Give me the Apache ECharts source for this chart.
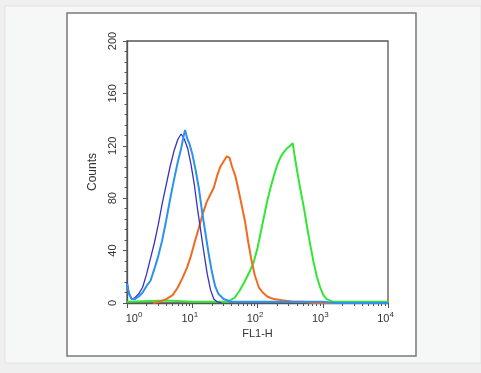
<!DOCTYPE html>
<html>
<head>
<meta charset="utf-8">
<script src="https://cdn.jsdelivr.net/npm/echarts@6/dist/echarts.min.js"></script>
<style>
html,body{margin:0;padding:0;background:#efefef;}
#chart{width:481px;height:373px;}
</style>
</head>
<body>
<div id="chart"></div>
<script>
// FL1-H intensity given as log10 exponent; Counts per channel
var purpleLog10FL1 = [0.00,0.03,0.07,0.12,0.18,0.24,0.30,0.36,0.42,0.48,0.54,0.60,0.66,0.72,0.78,0.83,0.88,0.93,0.98,1.03,1.08,1.13,1.18,1.23,1.28,1.33,1.38,1.45];
var purpleCounts   = [16,8,3,4,7,12,22,34,46,60,76,90,104,116,125,129,125,118,106,91,72,55,38,22,10,3,1,0];

var blueLog10FL1 = [0.00,0.03,0.07,0.12,0.18,0.24,0.30,0.36,0.42,0.48,0.54,0.60,0.66,0.72,0.78,0.83,0.87,0.89,0.92,0.96,1.00,1.05,1.10,1.15,1.20,1.25,1.30,1.35,1.40,1.48,1.60,1.80,2.00,2.40,2.80,3.00,3.20,4.00];
var blueCounts   = [15,7,3,3,5,8,13,17,26,36,48,63,79,94,108,118,128,132,126,121,114,102,88,70,54,38,24,13,7,3,1,1,1,1,1,1,0,0];

var orangeLog10FL1 = [0.40,0.50,0.60,0.70,0.78,0.85,0.92,0.98,1.04,1.10,1.16,1.22,1.28,1.33,1.38,1.43,1.48,1.53,1.57,1.61,1.66,1.71,1.76,1.81,1.86,1.91,1.96,2.02,2.08,2.15,2.25,2.40,2.55,2.70,2.85,4.00];
var orangeCounts   = [0,1,3,6,12,19,27,36,47,57,68,77,83,88,97,104,108,112,111,104,97,86,74,62,46,32,21,12,8,5,3,2,1,1,0,0];

var greenLog10FL1 = [0.00,0.60,1.00,1.40,1.55,1.65,1.72,1.80,1.88,1.94,2.00,2.05,2.10,2.15,2.20,2.25,2.30,2.35,2.40,2.45,2.50,2.54,2.57,2.61,2.66,2.71,2.76,2.81,2.86,2.91,2.96,3.01,3.06,3.15,3.30,3.60,4.00];
var greenCounts   = [1,2,1,1,1,4,9,16,24,31,42,54,66,78,88,97,105,111,115,118,120,122,112,100,86,73,58,44,31,20,12,6,3,1,1,1,1];

var decadeTicks = [0,1,2,3,4];
var decadeLabels = ['0','1','2','3','4'];
var minorTickMultipliers = [2,3,4,5,6,7,8,9];

function zip(xs, ys){ return xs.map(function(x,i){ return [x, ys[i]]; }); }

var minorVals = [];
for (var d = 0; d < 4; d++) {
  minorTickMultipliers.forEach(function(m){ minorVals.push(d + Math.log10(m)); });
}

var chart = echarts.init(document.getElementById('chart'), null, {renderer:'canvas'});
var font = 'Liberation Sans, Arial, Helvetica, sans-serif';

var option = {
  backgroundColor: '#efefef',
  animation: false,
  graphic: [
    {type:'rect', z:-20, shape:{x:5,y:6,width:476,height:357}, style:{fill:'#f6f7f7', stroke:'#e3e3e3', lineWidth:1}},
    {type:'rect', z:-10, shape:{x:67,y:13,width:349,height:343}, style:{fill:'#ffffff', stroke:'#7a7a7a', lineWidth:1.5}}
  ],
  grid: {left:127, top:41, right:93, bottom:70, show:true, backgroundColor:'#ffffff', borderColor:'#555', borderWidth:1.3},
  xAxis: [
    {
      type:'value', min:0, max:4, interval:1,
      axisLine:{show:true, lineStyle:{color:'#555', width:1.3}},
      axisTick:{show:true, length:5, lineStyle:{color:'#555'}},
      splitLine:{show:false},
      axisLabel:{
        margin:8, color:'#333', fontFamily:font,
        formatter:function(v){
          var i = decadeTicks.indexOf(v);
          if (i === 0) return '{b0|10}{s0|' + decadeLabels[i] + '}';
          return '{b|10}{s|' + decadeLabels[i] + '}';
        },
        rich:{
          b0:{fontSize:11, lineHeight:13, verticalAlign:'bottom', color:'#333', fontFamily:font, padding:[0,0,0,14]},
          s0:{fontSize:8, lineHeight:9, verticalAlign:'top', color:'#333', fontFamily:font},
          b:{fontSize:11, lineHeight:13, verticalAlign:'bottom', color:'#333', fontFamily:font},
          s:{fontSize:8, lineHeight:9, verticalAlign:'top', color:'#333', fontFamily:font, padding:[0,5,0,0]}
        }
      },
      name:'FL1-H', nameLocation:'middle', nameGap:25,
      nameTextStyle:{fontSize:11, color:'#333', fontFamily:font}
    },
    {
      type:'value', min:0, max:4, position:'bottom', gridIndex:0,
      axisLine:{show:false},
      axisLabel:{show:false},
      splitLine:{show:false},
      axisTick:{show:true, length:3, customValues:minorVals, lineStyle:{color:'#555'}}
    }
  ],
  yAxis: {
    type:'value', min:0, max:200, interval:40,
    axisLine:{show:true, lineStyle:{color:'#555', width:1.3}},
    axisTick:{show:true, length:4, lineStyle:{color:'#555'}},
    minorTick:{show:true, splitNumber:5, length:2.5, lineStyle:{color:'#555'}},
    splitLine:{show:false}, minorSplitLine:{show:false},
    axisLabel:{rotate:90, margin:9, fontSize:11, color:'#333', fontFamily:font},
    name:'Counts', nameLocation:'middle', nameGap:24,
    nameTextStyle:{fontSize:12, color:'#333', fontFamily:font}
  },
  series: [
    {type:'line', name:'green', data:zip(greenLog10FL1, greenCounts), showSymbol:false, symbol:'none', lineStyle:{color:'#33e633', width:2}, z:2},
    {type:'line', name:'orange', data:zip(orangeLog10FL1, orangeCounts), showSymbol:false, symbol:'none', lineStyle:{color:'#f26a1f', width:2}, z:3},
    {type:'line', name:'purple', data:zip(purpleLog10FL1, purpleCounts), showSymbol:false, symbol:'none', lineStyle:{color:'#3b30c4', width:1.3}, z:4},
    {type:'line', name:'blue', data:zip(blueLog10FL1, blueCounts), showSymbol:false, symbol:'none', lineStyle:{color:'#2b92f0', width:2}, z:5}
  ]
};
chart.setOption(option);
</script>
</body>
</html>
